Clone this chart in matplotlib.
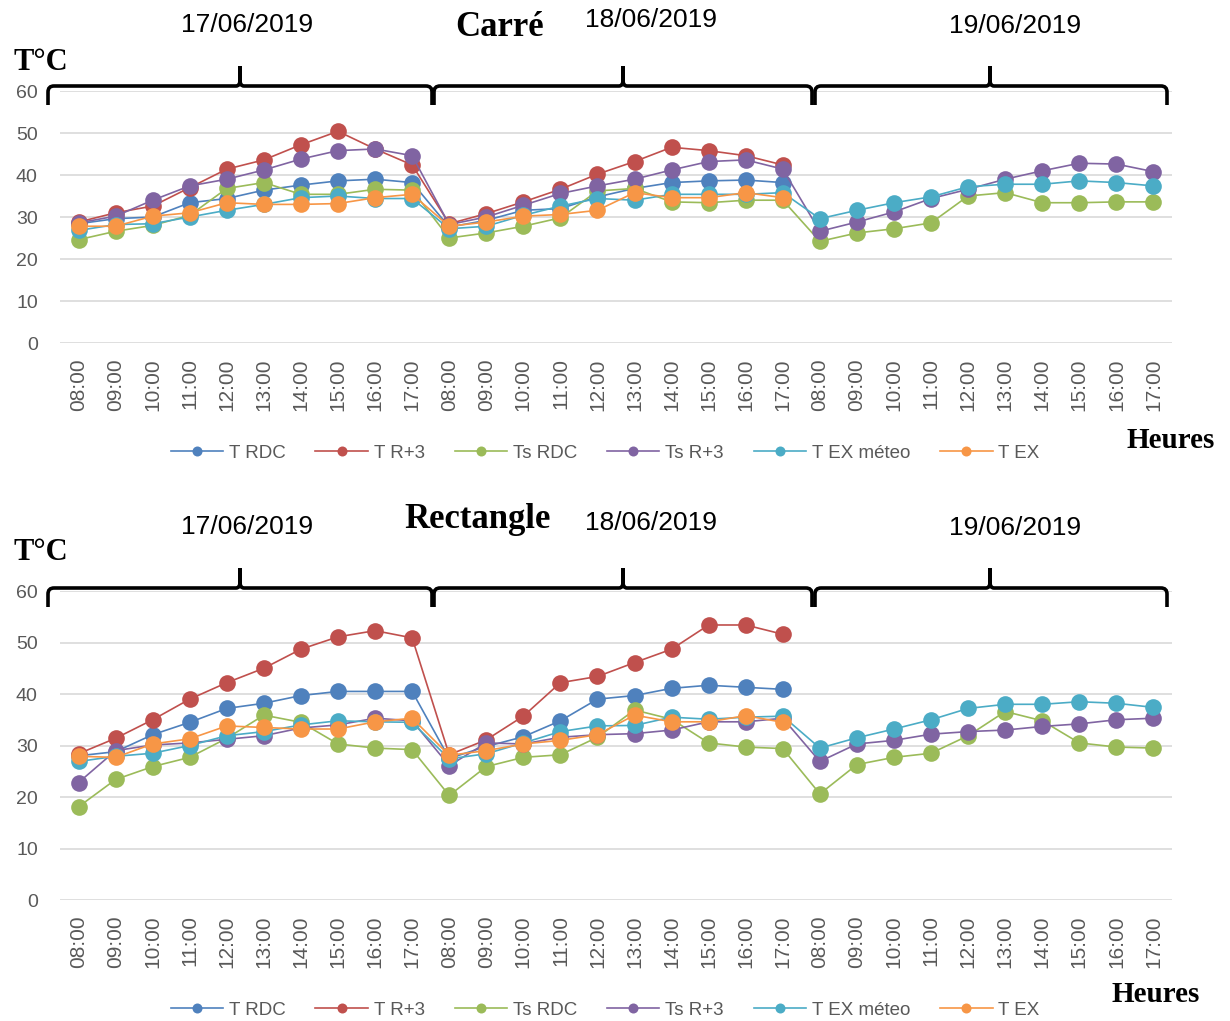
import numpy as np
import matplotlib
matplotlib.use("Agg")
import matplotlib.pyplot as plt
from matplotlib.path import Path
from matplotlib.patches import PathPatch

nan = np.nan

hours = ["08:00", "09:00", "10:00", "11:00", "12:00",
         "13:00", "14:00", "15:00", "16:00", "17:00"]
days = ["17/06/2019", "18/06/2019", "19/06/2019"]
xlabels = hours * 3

series_names = ["T RDC", "T R+3", "Ts RDC", "Ts R+3", "T EX méteo", "T EX"]
colors = ["#4F81BD", "#C0504D", "#9BBB59", "#8064A2", "#4BACC6", "#F79646"]

# Carré
carre_t_rdc = [28.4, 29.6, 30, 33.4, 34.4, 36.4, 37.6, 38.6, 39, 38.2,
               27.6, 29.2, 31.6, 32, 34.8, 36.8, 38.2, 38.6, 38.8, 38.2] + [nan] * 10
carre_t_r3 = [28.8, 31, 32.6, 37, 41.4, 43.6, 47.2, 50.4, 46.2, 42.4,
              28.4, 30.8, 33.6, 36.6, 40.2, 43.2, 46.6, 45.8, 44.6, 42.4] + [nan] * 10
carre_ts_rdc = [24.6, 26.6, 28, 30.4, 36.8, 38.2, 35.4, 35.4, 36.6, 36.4,
                25, 26.2, 27.8, 29.8, 36.2, 36.8, 33.6, 33.4, 34, 34,
                24.2, 26.2, 27.2, 28.6, 35, 35.8, 33.4, 33.4, 33.6, 33.6]
carre_ts_r3 = [28.6, 30.2, 34, 37.4, 39, 41.2, 43.8, 45.8, 46.2, 44.6,
               28.2, 30, 32.8, 35.6, 37.4, 39, 41.2, 43.2, 43.6, 41.4,
               26.6, 28.8, 31.2, 34.4, 36.6, 39, 41, 42.8, 42.6, 40.8]
carre_tex_meteo = [26.8, 28.2, 28.4, 30, 31.6, 33, 34.6, 35, 34.4, 34.4,
                   27.2, 27.8, 30.4, 32.6, 34.4, 34, 35.4, 35.4, 35.4, 35.8,
                   29.6, 31.6, 33.4, 34.8, 37.2, 37.8, 37.8, 38.6, 38.2, 37.4]
carre_tex = [27.8, 27.8, 30.2, 31, 33.4, 33, 33, 33.2, 34.6, 35.4,
             27.8, 28.8, 30.2, 30.6, 31.6, 35.8, 34.6, 34.6, 35.8, 34.6] + [nan] * 10

# Rectangle
rect_t_rdc = [28, 28.8, 32.1, 34.5, 37.2, 38.2, 39.7, 40.5, 40.5, 40.5,
              27.5, 29.8, 31.7, 34.8, 39, 39.7, 41.1, 41.7, 41.3, 40.9] + [nan] * 10
rect_t_r3 = [28.4, 31.4, 35, 39, 42.2, 45, 48.7, 51.1, 52.3, 50.9,
             28.2, 31.1, 35.7, 42.2, 43.4, 46.1, 48.7, 53.4, 53.4, 51.6] + [nan] * 10
rect_ts_rdc = [18.1, 23.4, 25.9, 27.7, 31.4, 35.9, 34.5, 30.3, 29.5, 29.2,
               20.3, 25.9, 27.7, 28.2, 31.6, 36.9, 35.1, 30.5, 29.7, 29.4,
               20.6, 26.3, 27.7, 28.5, 31.9, 36.6, 34.8, 30.5, 29.7, 29.5]
rect_ts_r3 = [22.8, 29, 30.1, 30.5, 31.2, 31.9, 33.4, 34, 35.3, 34.8,
              26.1, 30.5, 30.3, 31.6, 32.1, 32.3, 33, 34.6, 34.6, 35.3,
              26.9, 30.3, 31, 32.2, 32.7, 33, 33.7, 34.2, 35, 35.3]
rect_tex_meteo = [26.9, 27.9, 28.5, 30, 31.9, 32.7, 34, 34.8, 34.6, 34.5,
                  27.4, 28.4, 30.5, 32.7, 33.8, 33.9, 35.5, 35.1, 35.5, 35.7,
                  29.5, 31.5, 33.2, 35, 37.2, 38, 38, 38.5, 38.2, 37.4]
rect_tex = [27.9, 27.7, 30.3, 31.3, 33.8, 33.5, 33.2, 33.2, 34.6, 35.3,
            28.1, 29, 30.3, 31, 32.1, 35.9, 34.6, 34.6, 35.8, 34.5] + [nan] * 10

carre = [carre_t_rdc, carre_t_r3, carre_ts_rdc, carre_ts_r3, carre_tex_meteo, carre_tex]
rect = [rect_t_rdc, rect_t_r3, rect_ts_rdc, rect_ts_r3, rect_tex_meteo, rect_tex]

W, H = 1230, 1021
fig = plt.figure(figsize=(W / 100, H / 100), dpi=100)


def px(x, y):
    # pixel position (from top-left) -> figure fraction
    return x / W, 1 - y / H


def draw_chart(rect_box, data):
    ax = fig.add_axes(rect_box)
    x = np.arange(len(xlabels))
    for vals, name, c in zip(data, series_names, colors):
        ax.plot(x, vals, color=c, lw=1.2, marker="o", markersize=12,
                markeredgewidth=0, label=name)
    ax.set_xlim(-0.5, len(xlabels) - 0.5)
    ax.set_ylim(0, 60)
    ax.set_yticks(range(0, 61, 10))
    ax.set_xticks(x)
    ax.set_xticklabels(xlabels, rotation=90, family="Liberation Sans",
                       fontsize=15, color="#595959")
    for lab in ax.get_yticklabels():
        lab.set_family("Liberation Sans")
        lab.set_fontsize(14)
        lab.set_color("#595959")
    ax.tick_params(axis="x", length=0, pad=11)
    ax.tick_params(axis="y", length=0, pad=16)
    ax.grid(axis="y", color="#d9d9d9", lw=1.2)
    ax.set_axisbelow(True)
    for s in ax.spines.values():
        s.set_visible(False)
    return ax


def bracket(x0, xp, x1, yh):
    verts = [(x0, yh + 19), (x0, yh + 6), (x0, yh), (x0 + 6, yh),
             (xp - 4, yh), (xp, yh), (xp, yh - 6), (xp, yh - 20),
             (xp, yh - 6), (xp, yh), (xp + 4, yh),
             (x1 - 6, yh), (x1, yh), (x1, yh + 6), (x1, yh + 19)]
    codes = [Path.MOVETO, Path.LINETO, Path.CURVE3, Path.CURVE3,
             Path.LINETO, Path.CURVE3, Path.CURVE3, Path.LINETO,
             Path.LINETO, Path.CURVE3, Path.CURVE3,
             Path.LINETO, Path.CURVE3, Path.CURVE3, Path.LINETO]
    path = Path([px(*v) for v in verts], codes)
    fig.add_artist(PathPatch(path, fill=False, lw=2.6, color="black",
                             transform=fig.transFigure, capstyle="butt"))


def headers(title, title_pos, date_pos, y_bracket, tc_y):
    for d, (dx, dy) in zip(days, date_pos):
        fig.text(*px(dx, dy), d, ha="center", va="center",
                 family="Liberation Sans", fontsize=19)
    fig.text(*px(*title_pos), title, ha="center", va="center",
             family="Liberation Serif", weight="bold", fontsize=25)
    fig.text(*px(13, tc_y), "T°C", ha="left", va="center",
             family="Liberation Serif", weight="bold", fontsize=22)
    bracket(48, 240, 432, y_bracket)
    bracket(434, 623, 812, y_bracket)
    bracket(815, 990, 1167, y_bracket)


def legend(ax, y):
    fig.legend(*ax.get_legend_handles_labels(), loc="center",
               bbox_to_anchor=px(605, y), ncol=6, frameon=False,
               handlelength=2.8, handletextpad=0.3, columnspacing=1.6,
               markerscale=0.6, prop={"family": "Liberation Sans", "size": 13.5},
               labelcolor="#595959")


# top chart: Carré
ax1 = draw_chart([60 / W, 1 - 343 / H, 1112 / W, 252 / H], carre)
headers("Carré", (500, 27), [(247, 25), (651, 20), (1015, 26)], 86, 62)
legend(ax1, 453)
fig.text(*px(1215, 440), "Heures", ha="right", va="center",
         family="Liberation Serif", weight="bold", fontsize=21)

# bottom chart: Rectangle
ax2 = draw_chart([60 / W, 1 - 900 / H, 1112 / W, 309 / H], rect)
headers("Rectangle", (478, 520), [(247, 527), (651, 523), (1015, 528)], 588, 553)
legend(ax2, 1010)
fig.text(*px(1200, 995), "Heures", ha="right", va="center",
         family="Liberation Serif", weight="bold", fontsize=21)

fig.savefig("out.png", dpi=100, facecolor="white")
